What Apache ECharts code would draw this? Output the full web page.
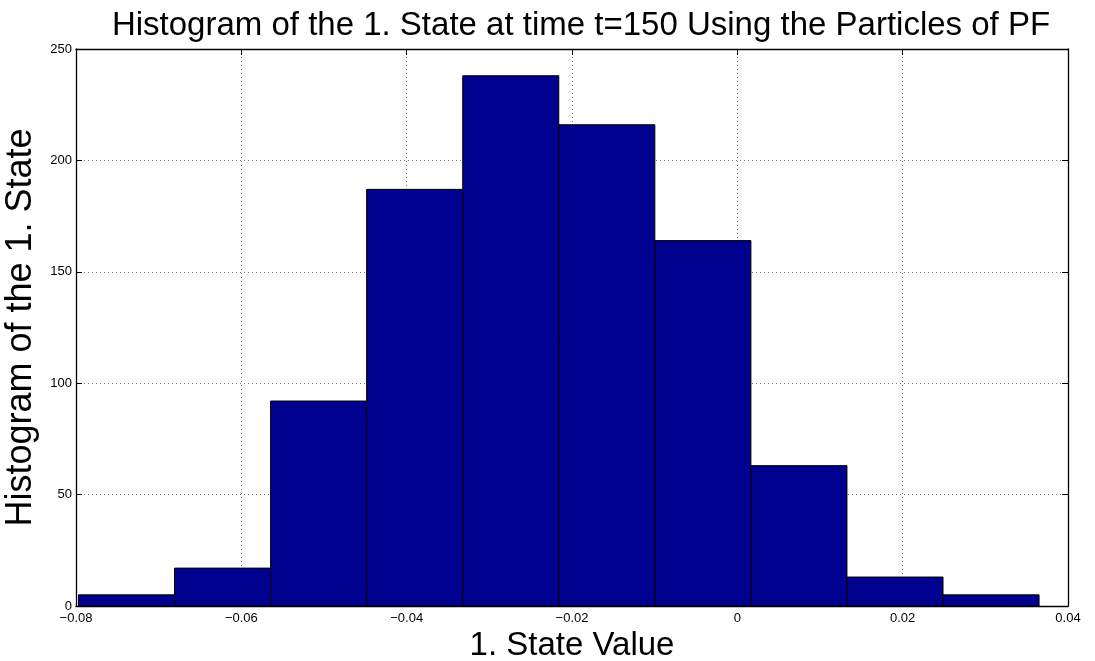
<!DOCTYPE html>
<html><head><meta charset="utf-8">
<script src="https://cdn.jsdelivr.net/npm/echarts@6/dist/echarts.min.js"></script>
<style>html,body{margin:0;padding:0;background:#fff}#c{width:1095px;height:661px}</style>
</head><body><div id="c"></div>
<script>
const binEdges = [-0.0797, -0.06808, -0.05646, -0.04484, -0.03322, -0.02160, -0.00998, 0.00164, 0.01326, 0.02488, 0.03650];
const counts = [5, 17, 92, 187, 238, 216, 164, 63, 13, 5];
const xTicks = [-0.08, -0.06, -0.04, -0.02, 0, 0.02, 0.04];
const yTicks = [0, 50, 100, 150, 200, 250];

const data = counts.map((c, i) => [binEdges[i], binEdges[i + 1], c]);
const font = 'Liberation Sans, Arial, sans-serif';
const fmtX = v => { if (Math.abs(v) < 1e-9) return '0'; return (v < 0 ? '\u22120' : '0') + Math.abs(v).toFixed(2).slice(1); };
const dotted = {show: true, lineStyle: {type: [1, 3], color: '#777', width: 1}};

const chart = echarts.init(document.getElementById('c'), null, {renderer: 'canvas'});
chart.setOption({
  animation: false,
  backgroundColor: '#fff',
  title: {
    text: 'Histogram of the 1. State at time t=150 Using the Particles of PF',
    left: 576, top: 4, textAlign: 'center',
    textStyle: {fontFamily: font, fontSize: 33, fontWeight: 'normal', color: '#000'}
  },
  grid: {left: 76, right: 27, top: 49, bottom: 55, containLabel: false, outerBoundsMode: 'none'},
  xAxis: [{
    type: 'value', min: xTicks[0], max: xTicks[xTicks.length - 1], interval: 0.02,
    name: '1. State Value', nameLocation: 'middle', nameGap: 22,
    nameTextStyle: {fontFamily: font, fontSize: 33, color: '#000'},
    axisLine: {show: true, onZero: false, lineStyle: {color: '#000', width: 1.3}},
    axisTick: {show: true, inside: true, length: 6, lineStyle: {color: '#000'}},
    axisLabel: {fontFamily: font, fontSize: 13, color: '#000', margin: 6, formatter: fmtX},
    splitLine: dotted
  }, {
    type: 'value', position: 'top', min: xTicks[0], max: xTicks[xTicks.length - 1], interval: 0.02,
    axisLine: {show: true, onZero: false, lineStyle: {color: '#000', width: 1.3}},
    axisTick: {show: true, inside: true, length: 6, lineStyle: {color: '#000'}},
    axisLabel: {show: false}, splitLine: {show: false}
  }],
  yAxis: [{
    type: 'value', min: yTicks[0], max: yTicks[yTicks.length - 1], interval: 50,
    name: 'Histogram of the 1. State', nameLocation: 'middle', nameGap: 33,
    nameTextStyle: {fontFamily: font, fontSize: 36, color: '#000'},
    axisLine: {show: true, onZero: false, lineStyle: {color: '#000', width: 1.3}},
    axisTick: {show: true, inside: true, length: 6, lineStyle: {color: '#000'}},
    axisLabel: {fontFamily: font, fontSize: 13, color: '#000', margin: 4},
    splitLine: dotted
  }, {
    type: 'value', position: 'right', min: yTicks[0], max: yTicks[yTicks.length - 1], interval: 50,
    axisLine: {show: true, onZero: false, lineStyle: {color: '#000', width: 1.3}},
    axisTick: {show: true, inside: true, length: 6, lineStyle: {color: '#000'}},
    axisLabel: {show: false}, splitLine: {show: false}
  }],
  series: [{
    type: 'custom',
    xAxisIndex: 0, yAxisIndex: 0,
    data: data,
    encode: {x: [0, 1], y: 2},
    renderItem: function (params, api) {
      const p0 = api.coord([api.value(0), api.value(2)]);
      const p1 = api.coord([api.value(1), 0]);
      return {
        type: 'rect',
        shape: {x: p0[0], y: p0[1], width: p1[0] - p0[0], height: p1[1] - p0[1]},
        style: {fill: '#00008F', stroke: '#000', lineWidth: 1}
      };
    }
  }]
});
</script></body></html>
